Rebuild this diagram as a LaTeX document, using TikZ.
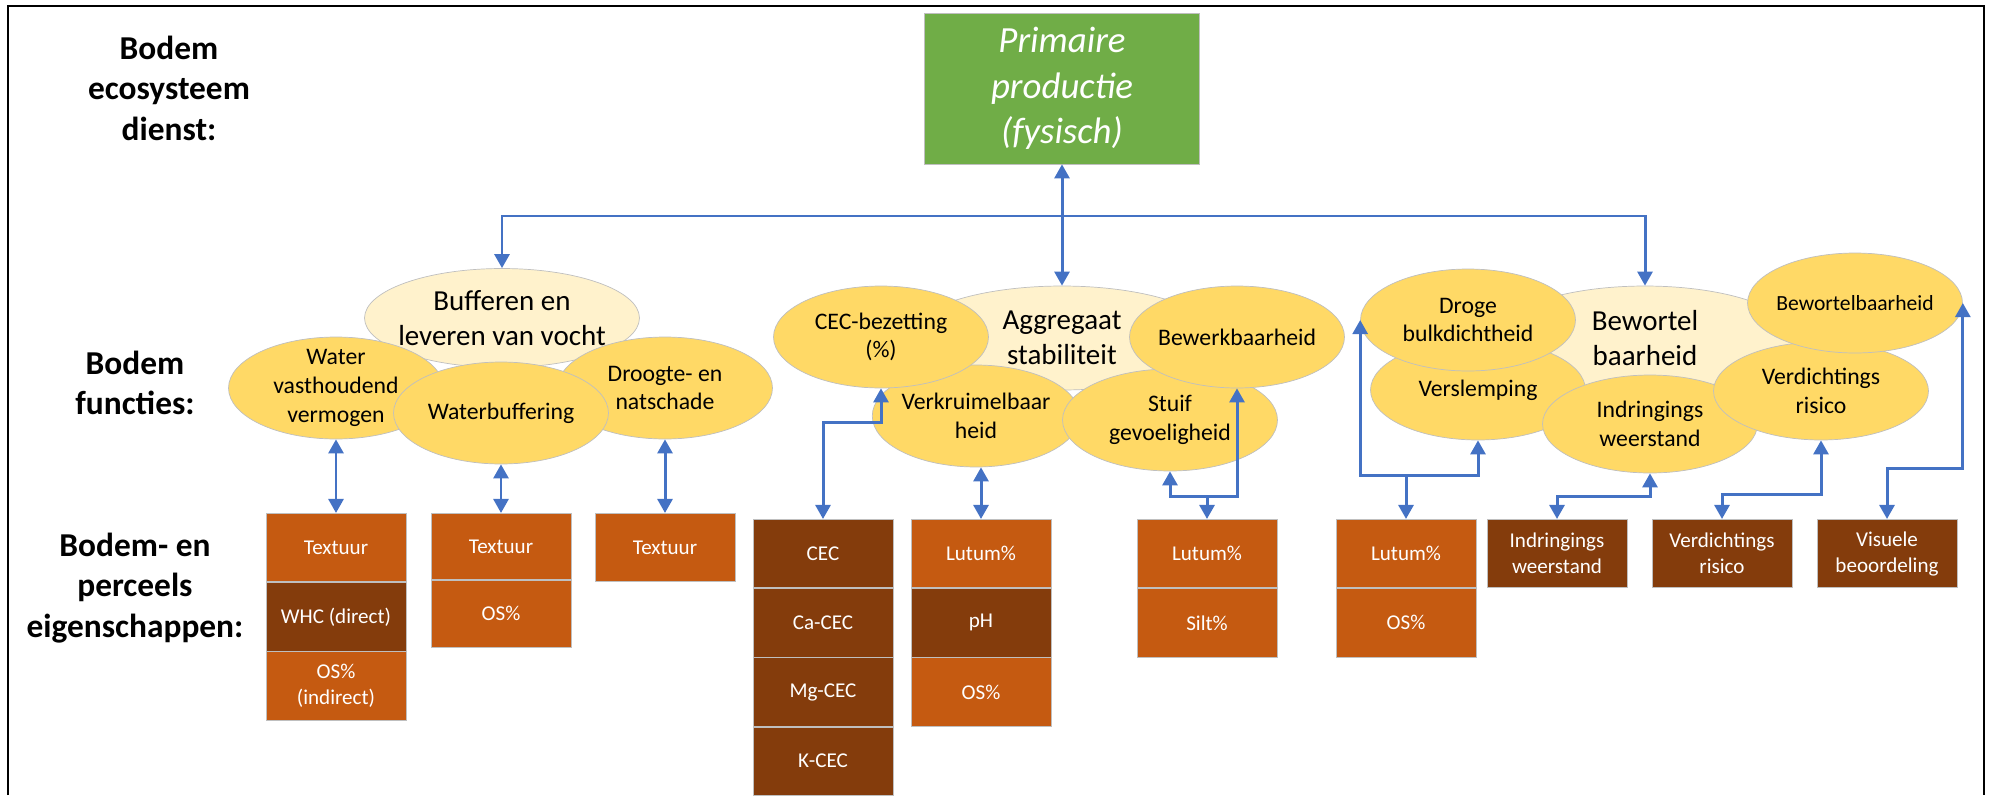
\documentclass[tikz,border=0pt]{standalone}
\usepackage{fontspec}
\setmainfont{Carlito}
\usepackage{tikz}
\usetikzlibrary{shapes.geometric,arrows.meta,chains,positioning}
\definecolor{myblue}{RGB}{68,114,196}
\definecolor{mygreen}{RGB}{112,173,71}
\definecolor{myyellow}{RGB}{255,217,102}
\definecolor{mycream}{RGB}{255,242,204}
\definecolor{myorange}{RGB}{197,90,17}
\definecolor{mybrown}{RGB}{132,60,12}
\definecolor{mygrey}{RGB}{191,191,191}

\begin{document}
\begin{tikzpicture}[x=0.02cm,y=-0.02cm,
  fnnode/.style={ellipse,draw=mygrey,fill=myyellow,inner xsep=-6pt,inner ysep=-4pt,
    minimum width=4.3cm,minimum height=2.04cm,align=center,
    font=\fontsize{13.5}{16.3}\selectfont},
  hubnode/.style={fnnode,fill=mycream,font=\fontsize{16.5}{19.6}\selectfont},
  propnode/.style={draw=mygrey,fill=myorange,text=white,anchor=north,
    minimum width=2.8cm,minimum height=1.37cm,inner sep=0pt,align=center,
    font=\fontsize{12}{14.8}\selectfont},
  lvlnode/.style={align=center,font=\fontsize{19}{23}\selectfont\bfseries},
  link/.style={myblue,line width=1.7pt,>={Triangle[length=8pt,width=8.5pt]}}
]
\useasboundingbox (0,0) rectangle (1991,795);
\draw[line width=1pt] (8,795) |- (1984,6) -- (1984,795);

% the level labels
\node[lvlnode] (dienst) at (169,88) {Bodem\\ecosysteem\\dienst:};
\node[lvlnode] (functies) at (135,383) {Bodem\\functies:};
\node[lvlnode] (eigensch) at (135,588) {Bodem- en\\perceels\\eigenschappen:};

% the service
\node[draw=mygrey,fill=mygreen,text=white,minimum width=5.5cm,minimum height=3.02cm,
  align=center,font=\fontsize{21}{26}\selectfont\itshape] (prim) at (1062,88.5)
  {Primaire\\productie\\(fysisch)};

% the functions: vocht
\node[hubnode,minimum width=5.5cm,minimum height=1.98cm] (buff) at (502,318) {Bufferen en\\leveren van vocht};
\node[fnnode] (water) at (336,388) {Water\\vasthoudend\\vermogen};
\node[fnnode] (droog) at (665,388) {Droogte- en\\natschade};
\node[fnnode] (wbuf) at (501,413) {Waterbuffering};

% the functions: aggregaat
\node[hubnode,minimum width=6.2cm,minimum height=2.08cm] (aggr) at (1062,338) {Aggregaat\\stabiliteit};
\node[fnnode,minimum width=4.15cm] (verk) at (976,416) {Verkruimelbaar\\heid};
\node[fnnode] (stuif) at (1170,420) {Stuif\\gevoeligheid};
\node[fnnode] (cecb) at (881,337) {CEC-bezetting\\(\%)};
\node[fnnode] (bewerk) at (1237,337) {Bewerkbaarheid};

% the functions: bewortel
\node[hubnode,minimum width=6cm,minimum height=2.08cm] (bewort) at (1645,338) {Bewortel\\baarheid};
\node[fnnode,minimum height=2cm] (versl) at (1478,390) {Verslemping};
\node[fnnode,minimum height=1.96cm] (indr) at (1650,424) {Indringings\\weerstand};
\node[fnnode,minimum height=1.96cm] (verd) at (1821,391) {Verdichtings\\risico};
\node[fnnode] (droge) at (1468,320) {Droge\\bulkdichtheid};
\node[fnnode,minimum height=2cm,font=\fontsize{12.3}{15}\selectfont] (bwb) at (1855,303) {Bewortelbaarheid};

% the properties
\begin{scope}[shift={(336,513)},start chain=going below,node distance=0pt]
\foreach \t/\c [count=\i] in {Textuur/myorange,WHC (direct)/mybrown,{OS\%\\(indirect)}/myorange}
  \node[propnode,fill=\c,on chain] (wa\i) {\t};
\end{scope}
\begin{scope}[shift={(501,513)},start chain=going below,node distance=0pt,
  propnode/.append style={minimum height=1.33cm}]
\foreach \t [count=\i] in {Textuur,OS\%}
  \node[propnode,on chain] (wb\i) {\t};
\end{scope}
\node[propnode] (dr1) at (665,513) {Textuur};

\begin{scope}[shift={(823,519)},start chain=going below,node distance=0pt]
\foreach \t [count=\i] in {CEC,Ca-CEC,Mg-CEC,K-CEC}
  \node[propnode,fill=mybrown,on chain] (cec\i) {\t};
\end{scope}
\begin{scope}[shift={(981,519)},start chain=going below,node distance=0pt]
\foreach \t/\c [count=\i] in {Lutum\%/myorange,pH/mybrown,OS\%/myorange}
  \node[propnode,fill=\c,on chain] (lut\i) {\t};
\end{scope}
\begin{scope}[shift={(1207,519)},start chain=going below,node distance=0pt]
\foreach \t [count=\i] in {Lutum\%,Silt\%}
  \node[propnode,on chain] (sl\i) {\t};
\end{scope}

\begin{scope}[shift={(1406,519)},start chain=going below,node distance=0pt]
\foreach \t [count=\i] in {Lutum\%,OS\%}
  \node[propnode,on chain] (vo\i) {\t};
\end{scope}
\node[propnode,fill=mybrown] (ib) at (1557,519) {Indringings\\weerstand};
\node[propnode,fill=mybrown] (vb) at (1722,519) {Verdichtings\\risico};
\node[propnode,fill=mybrown] (vis) at (1887,519) {Visuele\\beoordeling};

% the links to the service
\coordinate (bus) at (1062,216);
\draw[link,<->] (prim) -- (aggr);
\draw[link,->] (bus) -| (buff.north);
\draw[link,->] (bus) -| (bewort.north);

% the links to the properties
\draw[link,<->] (water) -- (wa1);
\draw[link,<->] (wbuf) -- (wb1);
\draw[link,<->] (droog) -- (dr1);
\draw[link,<->] (cec1.north) |- (cecb.south |- 0,422) -- (cecb.south);
\draw[link,<->] (verk.south -| lut1.north) -- (lut1.north);
\coordinate (stj) at (1207,496);
\draw[link,->] (stj) -- (sl1.north);
\draw[link,->] (stj) -| (stuif.south);
\draw[link,->] (stj) -| (bewerk.south);
\coordinate (vj) at (1406,475);
\draw[link,->] (vj) -- (vo1.north);
\draw[link,->] (vj) -| (versl.south);
\draw[link,->] (vj) -| (droge.west);
\draw[link,<->] (ib.north) |- (indr.south |- 0,496) -- (indr.south);
\draw[link,<->] (vb.north) |- (verd.south |- 0,494) -- (verd.south);
\draw[link,<->] (vis.north) |- (bwb.east |- 0,468) -- (bwb.east);
\end{tikzpicture}
\end{document}
